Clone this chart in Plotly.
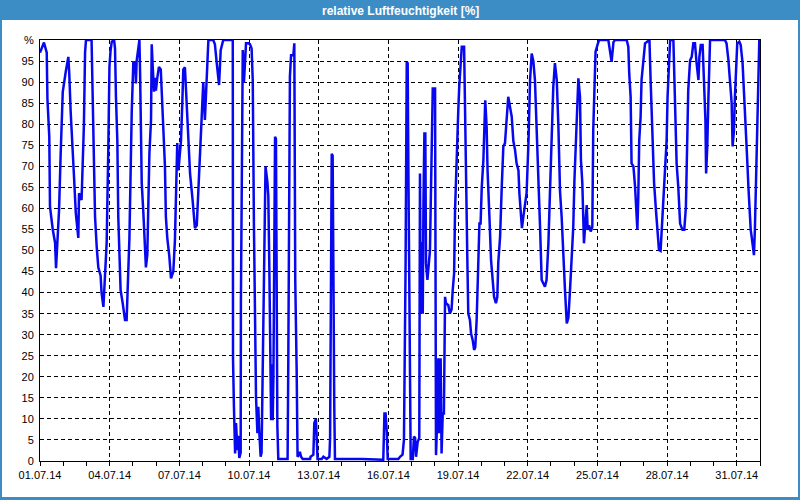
import pandas as pd
import plotly.graph_objects as go

# Day offsets since 01.07.2014 00:00 and relative humidity [%]
day = [
    0.00, 0.17, 0.29, 0.32, 0.40, 0.43, 0.55, 0.65, 0.69, 0.75, 0.82, 0.89, 0.93, 0.98, 1.11, 1.18, 1.22, 1.26,
    1.32, 1.46, 1.54, 1.65, 1.68, 1.79, 1.84, 1.89, 1.94, 1.98, 2.22, 2.27, 2.37, 2.44, 2.51, 2.61, 2.65, 2.73,
    2.80, 2.87, 2.94, 2.99, 3.04, 3.09, 3.19, 3.23, 3.27, 3.33, 3.37, 3.42, 3.47, 3.56, 3.66, 3.73, 3.76, 3.80,
    3.85, 3.90, 3.95, 4.02, 4.06, 4.09, 4.13, 4.16, 4.20, 4.28, 4.31, 4.35, 4.38, 4.45, 4.52, 4.56, 4.62, 4.66,
    4.71, 4.78, 4.81, 4.85, 4.91, 4.95, 4.99, 5.05, 5.12, 5.20, 5.24, 5.31, 5.38, 5.42, 5.48, 5.57, 5.64, 5.74,
    5.81, 5.86, 5.91, 5.96, 6.00, 6.07, 6.13, 6.17, 6.24, 6.29, 6.39, 6.46, 6.57, 6.67, 6.75, 6.82, 6.92, 6.97,
    7.03, 7.10, 7.18, 7.20, 7.25, 7.46, 7.53, 7.61, 7.71, 7.78, 7.86, 7.89, 8.30,
    8.31, 8.35, 8.40, 8.44, 8.50, 8.54, 8.58, 8.64, 8.65, 8.70, 8.73, 8.78, 8.83, 8.87, 8.97, 9.04, 9.11, 9.16,
    9.21, 9.26, 9.30, 9.36, 9.40, 9.44, 9.50, 9.54, 9.59, 9.64, 9.71, 9.79, 9.83, 9.87, 9.90, 9.95, 9.97, 10.02,
    10.05, 10.07, 10.12, 10.16, 10.19, 10.22, 10.26, 10.66, 10.69, 10.74, 10.76, 10.81, 10.91, 10.95, 10.99,
    11.05, 11.09, 11.15, 11.19, 11.24, 11.31, 11.63, 11.65, 11.77, 11.81, 11.88, 11.94, 11.95, 12.13, 12.20,
    12.34, 12.46, 12.49, 12.51, 12.56, 12.60, 12.63, 12.67, 12.70, 13.85, 14.78, 14.80, 14.83, 14.88, 14.93,
    14.97, 15.43, 15.50, 15.61, 15.67, 15.72, 15.74, 15.79, 15.83, 15.86, 15.89, 15.93, 15.96, 16.05, 16.10,
    16.15, 16.19, 16.26, 16.33, 16.36,
    16.39, 16.43, 16.48, 16.51, 16.55, 16.59, 16.62, 16.68, 16.72, 16.79, 16.83, 16.88, 16.91, 17.01, 17.05,
    17.11, 17.15, 17.19, 17.25, 17.29, 17.34, 17.39, 17.44, 17.48, 17.58, 17.65, 17.72, 17.77, 17.83, 17.87,
    17.91, 17.97, 18.01, 18.05, 18.08, 18.16, 18.26, 18.30, 18.34, 18.40, 18.44, 18.51, 18.56, 18.63, 18.69,
    18.74, 18.80, 18.87, 18.92, 18.97, 19.02, 19.09, 19.13, 19.17, 19.23, 19.27, 19.35, 19.42, 19.49, 19.55,
    19.63, 19.69, 19.73, 19.81, 19.88, 19.95, 20.02, 20.09, 20.16, 20.24, 20.31, 20.38, 20.45, 20.52, 20.60,
    20.64, 20.70, 20.75, 20.81, 20.88, 20.95, 21.03, 21.10, 21.17, 21.24, 21.31, 21.39, 21.46, 21.53, 21.60,
    21.67, 21.74, 21.81, 21.89, 21.96, 22.03, 22.10, 22.17, 22.25, 22.32,
    22.39, 22.46, 22.53, 22.60, 22.68, 22.75, 22.82, 22.89, 22.96, 23.01, 23.08, 23.18, 23.25, 23.29, 23.35,
    23.42, 23.47, 23.54, 23.58, 23.64, 23.71, 23.78, 23.82, 23.87, 23.92, 24.00, 24.07, 24.47, 24.54, 24.61,
    24.69, 24.76, 25.26, 25.33, 25.37, 25.43, 25.47, 25.55, 25.62, 25.66, 25.72, 25.76, 25.80, 25.86, 25.90,
    26.05, 26.15, 26.24, 26.29, 26.38, 26.44, 26.52, 26.58, 26.65, 26.72, 26.77, 26.84, 26.91, 26.98, 27.02,
    27.10, 27.13, 27.27, 27.31, 27.37, 27.41, 27.48, 27.56, 27.66, 27.74, 27.81, 27.87, 27.91, 27.99, 28.06,
    28.13, 28.20, 28.27, 28.35, 28.39, 28.45, 28.53, 28.59, 28.65, 28.68, 28.73, 28.78, 28.82, 28.85, 29.49,
    29.56, 29.64, 29.71, 29.78, 29.82, 29.88, 29.92, 29.97, 30.02, 30.11, 30.17, 30.25, 30.31, 30.40, 30.45,
    30.50, 30.54, 30.60, 30.64, 30.68, 30.74, 30.78, 30.83, 30.89, 30.93, 30.97,
]
rh = [
    97, 99.4, 97, 86, 77, 60.4, 55, 51.8, 45.8, 53, 59.6, 73, 80.6, 87.7, 92.5, 94.8, 96, 92,
    83, 68, 59, 53, 63.6, 62, 71, 79.8, 97, 100, 100, 84, 58, 51, 46, 44, 40, 36.6,
    43.5, 51.8, 74, 93.7, 97.6, 99.6, 100, 98, 86.5, 76, 58, 47.7, 40.6, 37.5, 33.5, 33.5, 37, 45,
    53, 70.7, 83, 95, 92, 95, 89.7, 95, 96.4, 100, 92, 81.5, 66, 59, 51.7, 46, 49, 62,
    73, 81, 99, 94, 87.7, 91, 88, 91, 93.6, 93, 88, 77.8, 70, 58, 53, 48.5, 43.4, 45,
    52.5, 64, 75.5, 69, 72, 76, 85.6, 93, 93.5, 88, 74.7, 68.3, 62, 55.3, 56, 64.4, 73, 81,
    90, 81, 89.8, 95, 100, 100, 99, 94.5, 89.3, 97.6, 99.5, 100, 100,
    24.4, 12.9, 1.8, 9, 2.6, 6, 0.7, 2, 37.5, 74.7, 97.6, 89.8, 97.6, 99.2, 99.2, 99, 98, 90.5,
    56.4, 21.6, 15.3, 6.6, 12.9, 7, 1, 2, 21.6, 33.5, 70, 66.3, 63, 47.7, 28.7, 9.7, 23, 9.7,
    20, 35, 77, 76.5, 42.2, 8.2, 0.5, 0.5, 23.2, 57.2, 91.3, 96.4, 96.4, 99.2, 43,
    21.6, 1, 1.5, 2.2, 1, 0.5, 0.5, 1, 1.5, 9, 10, 1, 0.5, 0.5, 1,
    0.5, 1, 5.5, 36.6, 73, 72.5, 25.6, 12.9, 0.5, 0.5, 0.3, 5, 11.3, 11.3, 7,
    0.5, 0.5, 1, 1.5, 5, 25.6, 46, 94.8, 94.5, 70, 45, 23.2, 0.5, 0.5, 5.8,
    5.5, 1, 4.5, 5.5, 68.3,
    35, 52, 35, 61.6, 77.8, 77.8, 47, 43, 45, 50, 63, 76, 88.5, 88.5, 1.4,
    11, 24.4, 6.6, 24.4, 1.8, 11.3, 11.3, 39, 37.5, 37, 35, 36, 40.6, 44.6, 59.6,
    68.3, 76, 83.4, 88.9, 92, 98.4, 98.4, 86.5, 73, 47.7, 35, 33.5, 30.3, 28.7, 26.4,
    27, 33.5, 48.5, 56.4, 56.4, 65, 71.5, 79.4, 85.7, 79.4, 69, 58, 47.7, 43, 39,
    37.5, 39, 47, 53.3, 65, 74.7, 75.5, 81.8, 86.5, 84, 81.8, 76, 74, 70.7, 69,
    63.6, 58, 55.3, 58, 61.2, 63.6, 75.5, 90.5, 96.8, 95, 90.5, 79.4, 68.3, 55.6, 43,
    42.2, 41.4, 43, 51.7, 64.4, 76, 88.9, 94.5, 90.5, 79.4,
    64, 58, 47, 41, 32.7, 34, 40.6, 49.3, 55.6, 66.7, 78.6, 90.9, 86.5, 71.5, 66,
    51.7, 55.6, 60.8, 54.9, 56, 54.5, 55.6, 78.6, 90.5, 97.2, 98.8, 100, 100, 96.8, 94.8,
    99.5, 100, 100, 98.4, 92, 86.5, 70.7, 70, 65.2, 60.4, 54.9, 62.8, 76.2, 81.8, 90.5,
    99.2, 99.6, 100, 90.5, 76.2, 66, 59.6, 54.9, 50.1, 49.9, 54.9, 59.6, 67.5, 76.2, 86.5,
    99.2, 100, 100, 92, 80.2, 70.7, 65.2, 56.4, 54.9, 54.9, 60.4, 79.4, 88.1, 95.2, 96,
    99.2, 99.2, 94.5, 90.5, 96, 98.8, 98.8, 88.9, 81, 68.3, 74.7, 86.5, 92.9, 100, 100,
    99.2, 95.2, 90.5, 85, 74.7, 78.6, 86.5, 95.2, 99.2, 99.6, 98.8, 94.5, 88.1, 79.4, 71.5,
    65.2, 60.4, 54.9, 53.3, 50.9, 48.9, 55, 65.2, 78.6, 90.5, 100,
]

x_tick_dates = ["2014-07-01", "2014-07-04", "2014-07-07", "2014-07-10", "2014-07-13", "2014-07-16",
                "2014-07-19", "2014-07-22", "2014-07-25", "2014-07-28", "2014-07-31"]
x_tick_labels = ["01.07.14", "04.07.14", "07.07.14", "10.07.14", "13.07.14", "16.07.14",
                 "19.07.14", "22.07.14", "25.07.14", "28.07.14", "31.07.14"]
x_minor_dates = [d.strftime("%Y-%m-%d") for d in pd.date_range("2014-07-01", "2014-08-01", freq="D")]
y_tick_vals = list(range(0, 101, 5))
y_tick_labels = [str(v) for v in range(0, 100, 5)] + ["%"]
title_text = "relative Luftfeuchtigkeit [%]"

start = pd.Timestamp("2014-07-01")
times = start + pd.to_timedelta(day, unit="D")

W, H = 800, 500
ML, MR, MT, MB = 40, 40, 40, 39
PW, PH = W - ML - MR, H - MT - MB


def px(xp):
    return (xp - ML) / PW


def py(yp):
    return (H - MB - yp) / PH


fig = go.Figure(go.Scatter(x=times, y=rh, mode="lines",
                           line=dict(color="#0808f0", width=2.5), hoverinfo="skip"))

tick_font = dict(family="Liberation Sans, Arial, sans-serif", size=11, color="black")

fig.update_layout(
    width=W, height=H,
    margin=dict(l=ML, r=MR, t=MT, b=MB, pad=0),
    paper_bgcolor="#3c8dc6",
    plot_bgcolor="white",
    showlegend=False,
    shapes=[dict(type="rect", xref="paper", yref="paper",
                 x0=px(2), x1=px(798), y0=py(497), y1=py(20),
                 fillcolor="white", line=dict(width=0), layer="below")],
    annotations=[dict(text=title_text, xref="paper", yref="paper",
                      x=px(400), y=py(11), xanchor="center", yanchor="middle",
                      showarrow=False,
                      font=dict(family="Liberation Sans, Arial, sans-serif", size=12,
                                color="white", weight="bold"))],
    xaxis=dict(
        type="date",
        range=["2014-07-01", "2014-08-01"],
        tickmode="array", tickvals=x_tick_dates, ticktext=x_tick_labels,
        ticks="outside", ticklen=4, tickcolor="black", tickwidth=1,
        minor=dict(tickmode="array", tickvals=x_minor_dates,
                   ticks="outside", ticklen=4, tickcolor="black", tickwidth=1, showgrid=False),
        showgrid=True, gridcolor="black", gridwidth=1, griddash="4px,3px",
        showline=True, linecolor="black", linewidth=1, mirror=True,
        zeroline=False, tickfont=tick_font, fixedrange=True,
    ),
    yaxis=dict(
        range=[0, 100],
        tickmode="array", tickvals=y_tick_vals, ticktext=y_tick_labels,
        ticks="", ticklabelstandoff=3,
        showgrid=True, gridcolor="black", gridwidth=1, griddash="4px,3px",
        showline=True, linecolor="black", linewidth=1, mirror=True,
        zeroline=False, tickfont=tick_font, fixedrange=True,
    ),
)

fig.write_html("out.html")
